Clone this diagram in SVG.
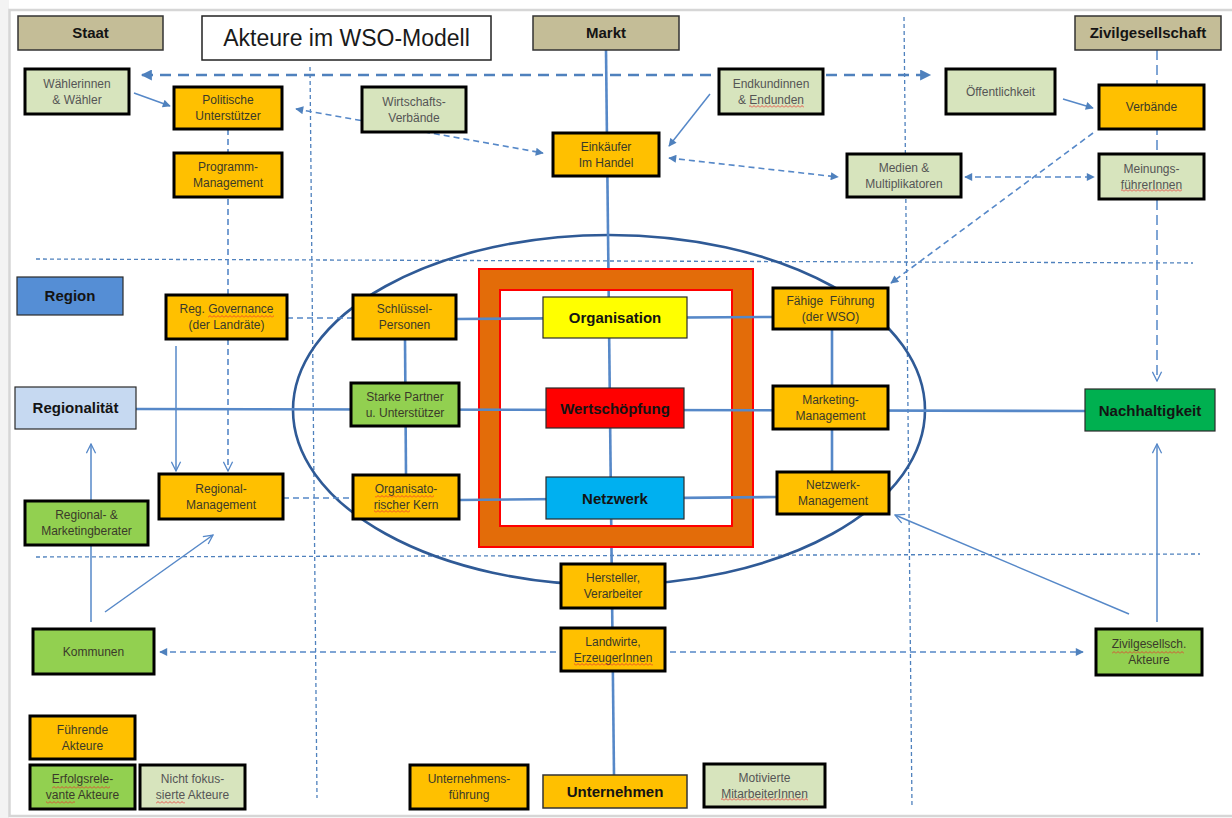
<svg xmlns="http://www.w3.org/2000/svg" width="1232" height="818" viewBox="0 0 1232 818">
  <defs>
    <style>
      .t { font-family: "Liberation Sans", Arial, sans-serif; font-size: 12px; text-anchor: middle; fill: #3a3a2a; }
      .tg { fill: #555555; }
      .b { font-family: "Liberation Sans", Arial, sans-serif; font-weight: bold; font-size: 15px; text-anchor: middle; fill: #141414; }
      .act { stroke: #000; stroke-width: 3; }
      .cat { fill: #c4bd97; stroke: #333; stroke-width: 1.5; }
      .key { stroke: #2a2a2a; stroke-width: 1.2; }
      .or { fill: #ffc000; }
      .lg { fill: #d7e4bd; }
      .gr { fill: #92d050; }
      .grid { fill: none; stroke: #4f81bd; stroke-width: 1.3; stroke-dasharray: 4 3; }
      .axis { fill: none; stroke: #5688c8; stroke-width: 2.6; }
      .thin { fill: none; stroke: #5688c8; stroke-width: 1.5; }
      .dash { fill: none; stroke: #5688c8; stroke-width: 1.6; stroke-dasharray: 6 4; }
      .wave { fill: url(#wave); }
    </style>
    <marker id="tri" viewBox="0 0 10 10" refX="9" refY="5" markerWidth="9" markerHeight="8" markerUnits="userSpaceOnUse" orient="auto-start-reverse">
      <path d="M0,0 L10,5 L0,10 z" fill="#4f81bd"/>
    </marker>
    <marker id="triL" viewBox="0 0 10 10" refX="9" refY="5" markerWidth="13" markerHeight="11" markerUnits="userSpaceOnUse" orient="auto-start-reverse">
      <path d="M0,0 L10,5 L0,10 z" fill="#4f81bd"/>
    </marker>
    <marker id="vee" viewBox="0 0 12 12" refX="11" refY="6" markerWidth="11" markerHeight="11" markerUnits="userSpaceOnUse" orient="auto-start-reverse">
      <path d="M1,1 L11,6 L1,11" fill="none" stroke="#5688c8" stroke-width="1.4"/>
    </marker>
    <pattern id="wave" width="4" height="3" patternUnits="userSpaceOnUse">
      <path d="M0,2.5 L2,0.5 L4,2.5" fill="none" stroke="#e83030" stroke-width="0.8"/>
    </pattern>
  </defs>

  <!-- page -->
  <rect x="0" y="0" width="1232" height="818" fill="#fff"/>
  <rect x="0" y="0" width="9" height="818" fill="#f3f3f3"/>
  <rect x="9.5" y="10" width="1240" height="806" fill="#fff" stroke="#d6d6d6" stroke-width="2.5"/>

  <!-- quadrant grid -->
  <g id="grid">
    <path class="grid" d="M36,259 L1193,263"/>
    <path class="grid" d="M36,557 L1200,554"/>
    <path class="grid" d="M310,67 L317,798"/>
    <path class="grid" d="M904,17 L912,808"/>
  </g>

  <!-- WSO ellipse -->
  <ellipse id="wso-ellipse" cx="609" cy="410" rx="316" ry="175" fill="none" stroke="#2f5a96" stroke-width="2.6"/>

  <g id="connectors">
    <!-- vertical Markt / Unternehmen axis -->
    <path class="axis" d="M606,50 L614,775"/>
  </g>

  <!-- core frame -->
  <path id="core-frame" d="M479,269 h274 v278 h-274 z M500,290 v236 h232 v-236 z" fill="#e36c09" fill-rule="evenodd" stroke="#ff0000" stroke-width="2"/>

  <g id="connectors-2">
    <!-- horizontal axes -->
    <path class="axis" d="M136,409 L1085,411"/>
    <path class="axis" d="M456,319 L773,317"/>
    <path class="axis" d="M459,500 L777,497"/>
    <path class="axis" d="M405,339 L406,475"/>
    <path class="axis" d="M832,329 L832,472"/>

    <!-- dashed links -->
    <path class="dash" d="M287,318 L353,318"/>
    <path class="dash" d="M283,498 L353,498"/>
    <path fill="none" stroke="#4f81bd" stroke-width="2.6" stroke-dasharray="11 7" d="M142,75 L930,75" marker-start="url(#triL)" marker-end="url(#triL)"/>
    <path class="dash" d="M296,109 L543,153" marker-start="url(#tri)" marker-end="url(#tri)"/>
    <path class="dash" d="M669,158 L838,177" marker-start="url(#tri)" marker-end="url(#tri)"/>
    <path class="dash" d="M965,177 L1094,177" marker-start="url(#tri)" marker-end="url(#tri)"/>
    <path class="dash" d="M1093,133 L891,283" marker-end="url(#tri)"/>
    <path class="dash" d="M160,652 L1083,652" marker-start="url(#tri)" marker-end="url(#tri)"/>
    <path class="dash" d="M228,129 L228,471" marker-end="url(#vee)"/>
    <path fill="none" stroke="#5688c8" stroke-width="1.5" stroke-dasharray="10 5" d="M1157,50 L1157,381" marker-end="url(#vee)"/>

    <!-- solid arrows -->
    <path class="thin" d="M134,93 L170,106" marker-end="url(#tri)"/>
    <path class="thin" d="M710,94 L669,146" marker-end="url(#tri)"/>
    <path class="thin" d="M1063,99 L1093,108" marker-end="url(#tri)"/>
    <path class="thin" d="M176,346 L176,471" marker-end="url(#vee)"/>
    <path class="thin" d="M91,501 L91,444" marker-end="url(#vee)"/>
    <path class="thin" d="M91,622 L91,545"/>
    <path class="thin" d="M105,612 L213,535" marker-end="url(#vee)"/>
    <path class="thin" d="M1129,614 L895,515" marker-end="url(#vee)"/>
    <path class="thin" d="M1157,622 L1157,444" marker-end="url(#vee)"/>
  </g>

  <!-- headings -->
  <g id="n-staat"><rect class="cat" x="18" y="16" width="145" height="34"/><text class="b" x="90.5" y="38">Staat</text></g>
  <g id="n-titel"><rect x="202" y="16" width="289" height="44" fill="#fff" stroke="#222" stroke-width="1.5"/><text x="346.5" y="46" font-family="Liberation Sans, Arial, sans-serif" font-size="23" text-anchor="middle" fill="#1a1a1a">Akteure im WSO-Modell</text></g>
  <g id="n-markt"><rect class="cat" x="533" y="16" width="146" height="34"/><text class="b" x="606" y="38">Markt</text></g>
  <g id="n-zivilgesellschaft"><rect class="cat" x="1075" y="16" width="146" height="34"/><text class="b" x="1148" y="38">Zivilgesellschaft</text></g>

  <!-- actors -->
  <g id="n-waehler"><rect class="act lg" x="25" y="69" width="104" height="45"/><text class="t tg" x="77" y="87.5">Wählerinnen</text><text class="t tg" x="77" y="103.5">&amp; Wähler</text></g>
  <g id="n-polunterstuetzer"><rect class="act or" x="174" y="87" width="108" height="42"/><text class="t" x="228" y="104">Politische</text><text class="t" x="228" y="120">Unterstützer</text></g>
  <g id="n-programm"><rect class="act or" x="174" y="153" width="108" height="44"/><text class="t" x="228" y="171">Programm-</text><text class="t" x="228" y="187">Management</text></g>
  <g id="n-wirtschaftsverbaende"><rect class="act lg" x="362" y="87" width="104" height="45"/><text class="t tg" x="414" y="105.5">Wirtschafts-</text><text class="t tg" x="414" y="121.5">Verbände</text></g>
  <g id="n-endkunden"><rect class="act lg" x="719" y="69" width="104" height="45"/><text class="t tg" x="771" y="87.5">Endkundinnen</text><text class="t tg" x="771" y="103.5">&amp; Endunden</text><rect class="wave" x="749" y="105" width="55" height="3"/></g>
  <g id="n-einkaeufer"><rect class="act or" x="553" y="133" width="106" height="43"/><text class="t" x="606" y="150.5">Einkäufer</text><text class="t" x="606" y="166.5">Im Handel</text></g>
  <g id="n-oeffentlichkeit"><rect class="act lg" x="946" y="69" width="109" height="45"/><text class="t tg" x="1000.5" y="95.5">Öffentlichkeit</text></g>
  <g id="n-verbaende"><rect class="act or" x="1099" y="85" width="105" height="44"/><text class="t" x="1151.5" y="111">Verbände</text></g>
  <g id="n-medien"><rect class="act lg" x="847" y="154" width="114" height="43"/><text class="t tg" x="904" y="171.5">Medien &amp;</text><text class="t tg" x="904" y="187.5">Multiplikatoren</text></g>
  <g id="n-meinungsfuehrer"><rect class="act lg" x="1099" y="154" width="105" height="45"/><text class="t tg" x="1151.5" y="172.5">Meinungs-</text><text class="t tg" x="1151.5" y="188.5">führerInnen</text><rect class="wave" x="1121" y="189" width="61" height="3"/></g>

  <g id="n-region"><rect class="key" x="17" y="277" width="106" height="38" fill="#558ed5"/><text class="b" x="70" y="301">Region</text></g>
  <g id="n-reggovernance"><rect class="act or" x="166" y="295" width="121" height="44"/><text class="t" x="226.5" y="313">Reg. Governance</text><text class="t" x="226.5" y="329">(der Landräte)</text><rect class="wave" x="208" y="315" width="66" height="3"/></g>
  <g id="n-schluesselpersonen"><rect class="act or" x="353" y="295" width="103" height="44"/><text class="t" x="404.5" y="313">Schlüssel-</text><text class="t" x="404.5" y="329">Personen</text></g>
  <g id="n-regionalitaet"><rect class="key" x="15" y="387" width="121" height="42" fill="#c6d9f1"/><text class="b" x="75.5" y="413">Regionalität</text></g>
  <g id="n-starkepartner"><rect class="act gr" x="351" y="383" width="108" height="43"/><text class="t" x="405" y="400.5">Starke Partner</text><text class="t" x="405" y="416.5">u. Unterstützer</text></g>

  <g id="n-organisation"><rect class="key" x="543" y="297" width="144" height="41" fill="#ffff00"/><text class="b" x="615" y="322.5">Organisation</text></g>
  <g id="n-wertschoepfung"><rect class="key" x="546" y="388" width="138" height="40" fill="#ff0000"/><text class="b" x="615" y="413.5" font-size="15.5">Wertschöpfung</text></g>
  <g id="n-netzwerk"><rect class="key" x="546" y="477" width="138" height="42" fill="#00b0f0"/><text class="b" x="615" y="503.5" font-size="15.5">Netzwerk</text></g>

  <g id="n-faehigefuehrung"><rect class="act or" x="773" y="288" width="115" height="41"/><text class="t" x="830.5" y="304.5" xml:space="preserve">Fähige  Führung</text><text class="t" x="830.5" y="320.5">(der WSO)</text></g>
  <g id="n-marketing"><rect class="act or" x="773" y="386" width="115" height="43"/><text class="t" x="830.5" y="403.5">Marketing-</text><text class="t" x="830.5" y="419.5">Management</text></g>
  <g id="n-netzwerkmgmt"><rect class="act or" x="777" y="472" width="112" height="42"/><text class="t" x="833" y="489">Netzwerk-</text><text class="t" x="833" y="505">Management</text></g>
  <g id="n-nachhaltigkeit"><rect class="key" x="1085" y="389" width="130" height="42" fill="#00b050"/><text class="b" x="1150" y="415.5" font-size="15.5">Nachhaltigkeit</text></g>

  <g id="n-regionalmgmt"><rect class="act or" x="159" y="474" width="124" height="45"/><text class="t" x="221" y="492.5">Regional-</text><text class="t" x="221" y="508.5">Management</text></g>
  <g id="n-orgkern"><rect class="act or" x="353" y="475" width="106" height="44"/><text class="t" x="406" y="493">Organisato-</text><text class="t" x="406" y="509">rischer Kern</text><rect class="wave" x="375" y="495" width="59" height="3"/><rect class="wave" x="374" y="510" width="36" height="3"/></g>
  <g id="n-berater"><rect class="act gr" x="25" y="501" width="123" height="44"/><text class="t" x="86.5" y="519">Regional- &amp;</text><text class="t" x="86.5" y="535">Marketingberater</text></g>
  <g id="n-hersteller"><rect class="act or" x="561" y="564" width="104" height="44"/><text class="t" x="613" y="582">Hersteller,</text><text class="t" x="613" y="598">Verarbeiter</text></g>
  <g id="n-landwirte"><rect class="act or" x="561" y="628" width="104" height="43"/><text class="t" x="613" y="645.5">Landwirte,</text><text class="t" x="613" y="661.5">ErzeugerInnen</text><rect class="wave" x="574" y="663" width="79" height="3"/></g>
  <g id="n-kommunen"><rect class="act gr" x="33" y="629" width="121" height="45"/><text class="t" x="93.5" y="655.5">Kommunen</text></g>
  <g id="n-zivilakteure"><rect class="act gr" x="1096" y="629" width="106" height="46"/><text class="t" x="1149" y="648">Zivilgesellsch.</text><text class="t" x="1149" y="664">Akteure</text><rect class="wave" x="1112" y="651" width="72" height="3"/></g>

  <!-- legend -->
  <g id="n-fuehrende"><rect class="act or" x="30" y="716" width="105" height="43"/><text class="t" x="82.5" y="733.5">Führende</text><text class="t" x="82.5" y="749.5">Akteure</text></g>
  <g id="n-erfolgsrelevant"><rect class="act gr" x="30" y="765" width="105" height="44"/><text class="t" x="82.5" y="783">Erfolgsrele-</text><text class="t" x="82.5" y="799">vante Akteure</text><rect class="wave" x="52" y="786" width="58" height="3"/><rect class="wave" x="46" y="801" width="29" height="3"/></g>
  <g id="n-nichtfokussiert"><rect class="act lg" x="140" y="765" width="105" height="44"/><text class="t tg" x="192.5" y="783">Nicht fokus-</text><text class="t tg" x="192.5" y="799">sierte Akteure</text><rect class="wave" x="156" y="801" width="29" height="3"/></g>

  <!-- enterprise level -->
  <g id="n-unternehmensfuehrung"><rect class="act or" x="410" y="765" width="118" height="44"/><text class="t" x="469" y="783">Unternehmens-</text><text class="t" x="469" y="799">führung</text></g>
  <g id="n-unternehmen"><rect class="or" x="543" y="775" width="144" height="33" stroke="#333" stroke-width="1.5"/><text class="b" x="615" y="797" font-size="16">Unternehmen</text></g>
  <g id="n-mitarbeiter"><rect class="act lg" x="704" y="764" width="121" height="43"/><text class="t tg" x="764.5" y="781.5">Motivierte</text><text class="t tg" x="764.5" y="797.5">MitarbeiterInnen</text><rect class="wave" x="721" y="798" width="87" height="3"/></g>
</svg>
